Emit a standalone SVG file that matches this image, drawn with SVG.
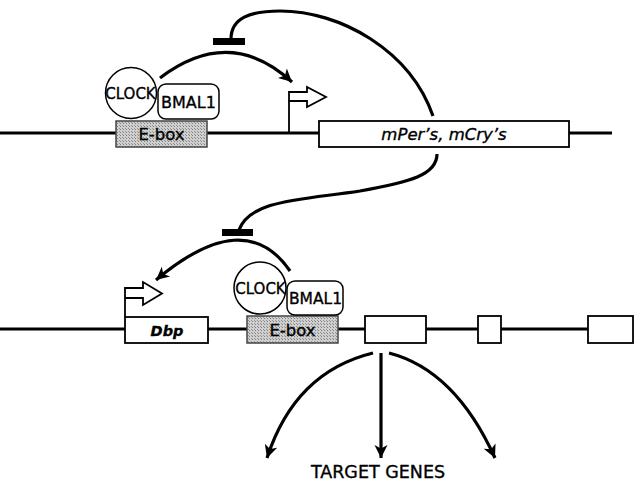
<svg xmlns="http://www.w3.org/2000/svg" width="636" height="481" viewBox="0 0 636 481">
  <defs>
    <marker id="head" markerUnits="userSpaceOnUse" viewBox="-1 -8 16 16" refX="13" refY="0" markerWidth="16" markerHeight="16" orient="auto">
      <path d="M0,-6.5 L13,0 L0,6.5 L3.5,0 z" fill="#000"/>
    </marker>
    <pattern id="stipple" width="3" height="3" patternUnits="userSpaceOnUse">
      <rect width="3" height="3" fill="#cfcfcf"/>
      <rect width="1" height="1" fill="#808080"/>
      <rect x="2" y="2" width="1" height="1" fill="#959595"/>
    </pattern>
  </defs>
  <style>
    .dna { stroke: #000; stroke-width: 3; fill: none; }
    .box { fill: #fff; stroke: #000; stroke-width: 1.8; }
    .ebox { fill: url(#stipple); stroke: #444; stroke-width: 1.5; }
    .prot { fill: #fff; stroke: #000; stroke-width: 1.5; }
    .prom { fill: #fff; stroke: #000; stroke-width: 1.8; }
    .wire { fill: none; stroke: #000; stroke-width: 3.2; }
    .act { marker-end: url(#head); }
    .bar { fill: #000; }
    text { font-family: "DejaVu Sans", "Liberation Sans", sans-serif; fill: #000; stroke: #000; stroke-width: 0.35; text-anchor: middle; }
    .gene { font-style: italic; }
  </style>

  <!-- DNA strands -->
  <line class="dna" x1="0" y1="133" x2="612" y2="133"/>
  <line class="dna" x1="0" y1="329" x2="590" y2="329"/>

  <!-- upper locus -->
  <g id="ebox-top">
    <rect class="ebox" x="116" y="121" width="91" height="26"/>
    <text x="161.5" y="140" font-size="16.5">E-box</text>
  </g>
  <g id="bmal1-top">
    <rect class="prot" x="158" y="84" width="61" height="35" rx="8"/>
    <text x="188.5" y="107.5" font-size="16">BMAL1</text>
  </g>
  <g id="clock-top">
    <circle class="prot" cx="131" cy="93" r="25.5"/>
    <text x="130.5" y="98.5" font-size="15">CLOCK</text>
  </g>
  <g id="promoter-top">
    <path class="prom" d="M289,133 V92 H307 V87 L326,97 L307,107 V101 H289"/>
  </g>
  <g id="mper-mcry">
    <rect class="box" x="319" y="121" width="250" height="26"/>
    <text class="gene" x="444" y="139.5" font-size="16.5">mPer’s, mCry’s</text>
  </g>

  <!-- lower locus -->
  <g id="promoter-dbp">
    <path class="prom" d="M125,317 V288 H143 V282 L162,293.5 L143,305 V298 H125"/>
  </g>
  <g id="dbp">
    <rect class="box" x="125" y="317" width="83" height="26"/>
    <text class="gene" x="167" y="336" font-size="14.5" font-weight="bold">Dbp</text>
  </g>
  <g id="ebox-bottom">
    <rect class="ebox" x="247" y="316" width="91" height="27"/>
    <text x="292.5" y="336" font-size="16.5">E-box</text>
  </g>
  <g id="bmal1-bottom">
    <rect class="prot" x="287" y="281" width="56" height="34" rx="8"/>
    <text x="315.5" y="303.5" font-size="15.5">BMAL1</text>
  </g>
  <g id="clock-bottom">
    <circle class="prot" cx="260" cy="288" r="26"/>
    <text x="260.5" y="293.5" font-size="15">CLOCK</text>
  </g>
  <g id="target-exon-1"><rect class="box" x="365" y="316" width="61" height="27"/></g>
  <g id="target-exon-2"><rect class="box" x="478" y="316" width="23" height="27"/></g>
  <g id="target-exon-3"><rect class="box" x="588" y="316" width="45" height="27"/></g>

  <g id="target-genes">
    <text x="378" y="478" font-size="17.5">TARGET GENES</text>
  </g>

  <!-- connectors -->
  <g id="connectors">
    <!-- CLOCK/BMAL1 activate mPer/mCry promoter -->
    <path class="wire act" d="M160,78 Q230,25 292,82"/>
    <!-- mPER/mCRY feedback repression onto the upper activation -->
    <path class="wire" d="M231,39 C231,18 250,11 280,11 C340,11 410,50 433,116"/>
    <rect class="bar" x="213" y="38" width="32" height="7"/>
    <!-- repression continues down to the Dbp activation -->
    <path class="wire" d="M437,154 C437,175 410,182 360,191 C300,200 250,200 239,230"/>
    <rect class="bar" x="222" y="229" width="31" height="7"/>
    <!-- CLOCK/BMAL1 activate Dbp promoter -->
    <path class="wire act" d="M290,271 Q245,205 156,280"/>
    <!-- fan-out to target genes -->
    <path class="wire act" d="M381,353 V458"/>
    <path class="wire act" d="M373,353 Q295,372 267,458"/>
    <path class="wire act" d="M389,353 Q455,370 495,458"/>
  </g>
</svg>
